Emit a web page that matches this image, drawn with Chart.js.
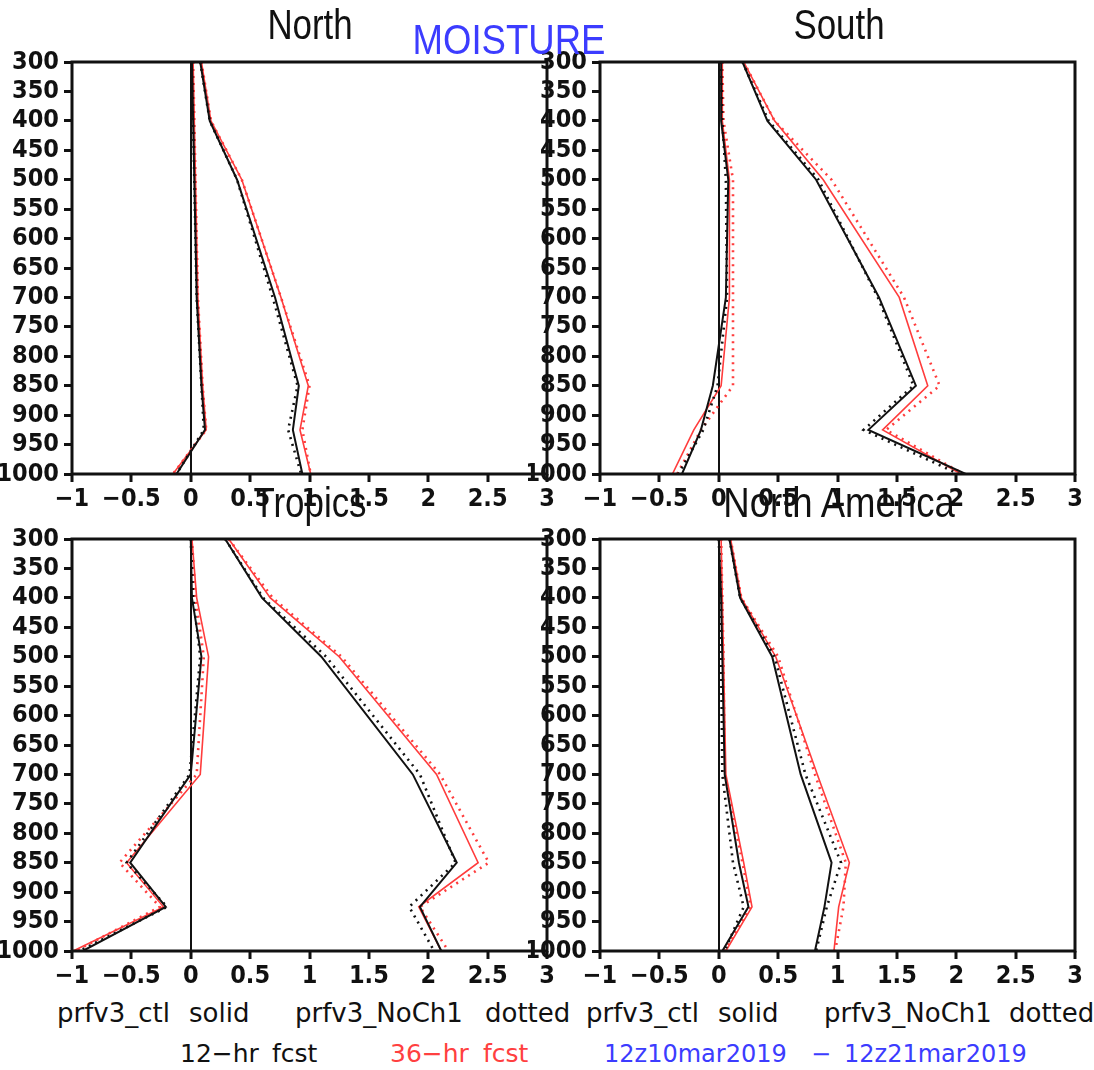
<!DOCTYPE html>
<html>
<head>
<meta charset="utf-8">
<script src="https://cdn.jsdelivr.net/npm/chart.js@4.4.1/dist/chart.umd.min.js"></script>
<style>
  body { margin: 0; background: #fff; }
  #page { position: relative; width: 1094px; height: 1070px; overflow: hidden; background: #fff; }
  #page canvas { position: absolute; }
  .ttl { position: absolute; font-family: 'Liberation Sans', Arial, sans-serif; font-size: 42px; line-height: 1;
         white-space: nowrap; transform: translateX(-50%) scaleX(0.83); transform-origin: center; color: #111; }
  .lbl { position: absolute; font-family: 'DejaVu Sans', sans-serif; font-size: 26px; line-height: 1; white-space: nowrap; color: #111; }
  .sub { position: absolute; font-family: 'DejaVu Sans', sans-serif; font-size: 25px; line-height: 1; white-space: nowrap; }
</style>
</head>
<body>
<div id="page">
  <canvas id="north"></canvas>
  <canvas id="south"></canvas>
  <canvas id="tropics"></canvas>
  <canvas id="namerica"></canvas>

  <div class="ttl" style="left:310px; top:4px">North</div>
  <div class="ttl" style="left:839px; top:4px">South</div>
  <div class="ttl" style="left:310px; top:482px">Tropics</div>
  <div class="ttl" style="left:839px; top:482px; transform: translateX(-50%) scaleX(0.87)">North America</div>
  <div class="ttl" style="left:509px; top:19px; color:#3c3cff; transform: translateX(-50%) scaleX(0.87)">MOISTURE</div>

  <div class="lbl" style="left:57px; top:1000px">prfv3_ctl</div>
  <div class="lbl" style="left:189px; top:1000px">solid</div>
  <div class="lbl" style="left:295px; top:1000px">prfv3_NoCh1</div>
  <div class="lbl" style="left:485px; top:1000px">dotted</div>
  <div class="lbl" style="left:586px; top:1000px">prfv3_ctl</div>
  <div class="lbl" style="left:718px; top:1000px">solid</div>
  <div class="lbl" style="left:824px; top:1000px">prfv3_NoCh1</div>
  <div class="lbl" style="left:1009px; top:1000px">dotted</div>

  <div class="sub" style="left:180px; top:1041px; color:#111">12−hr</div>
  <div class="sub" style="left:272px; top:1041px; color:#111">fcst</div>
  <div class="sub" style="left:390px; top:1041px; color:#ff4040">36−hr</div>
  <div class="sub" style="left:483px; top:1041px; color:#ff4040">fcst</div>
  <div class="sub" style="left:604px; top:1042px; color:#3c3cff; font-size:24px">12z10mar2019</div>
  <div class="sub" style="left:811px; top:1042px; color:#3c3cff; font-size:24px">−</div>
  <div class="sub" style="left:844px; top:1042px; color:#3c3cff; font-size:24px">12z21mar2019</div>
</div>

<script>
// pressure levels (hPa) where the profiles are verified
const levels = [300, 400, 500, 700, 850, 925, 1000];
const yTickLabels = ['300', '350', '400', '450', '500', '550', '600', '650', '700', '750', '800', '850', '900', '950', '1000'];
const xTickLabels = ['−1', '−0.5', '0', '0.5', '1', '1.5', '2', '2.5', '3'];

// North
const northBiasCtl12 = [0.01, 0.02, 0.03, 0.05, 0.09, 0.12, -0.12];
const northBiasNoch12 = [0.01, 0.02, 0.03, 0.05, 0.09, 0.11, -0.12];
const northBiasCtl36 = [0.02, 0.03, 0.04, 0.06, 0.10, 0.13, -0.15];
const northBiasNoch36 = [0.02, 0.03, 0.04, 0.06, 0.10, 0.13, -0.15];
const northRmsCtl12 = [0.08, 0.16, 0.39, 0.71, 0.91, 0.86, 0.94];
const northRmsNoch12 = [0.08, 0.16, 0.39, 0.69, 0.90, 0.82, 0.93];
const northRmsCtl36 = [0.09, 0.17, 0.43, 0.76, 0.99, 0.92, 1.01];
const northRmsNoch36 = [0.09, 0.17, 0.43, 0.76, 1.00, 0.94, 1.01];

// South
const southBiasCtl12 = [0.02, 0.02, 0.08, 0.06, -0.05, -0.15, -0.31];
const southBiasNoch12 = [0.02, 0.03, 0.06, 0.07, -0.01, -0.13, -0.34];
const southBiasCtl36 = [0.03, 0.03, 0.09, 0.09, 0.02, -0.21, -0.39];
const southBiasNoch36 = [0.03, 0.04, 0.12, 0.12, 0.12, -0.15, -0.35];
const southRmsCtl12 = [0.20, 0.41, 0.82, 1.35, 1.66, 1.26, 2.08];
const southRmsNoch12 = [0.20, 0.42, 0.84, 1.34, 1.64, 1.22, 2.02];
const southRmsCtl36 = [0.21, 0.47, 0.88, 1.52, 1.76, 1.38, 2.04];
const southRmsNoch36 = [0.21, 0.47, 0.95, 1.56, 1.86, 1.41, 2.06];

// Tropics
const tropBiasCtl12 = [0.00, 0.01, 0.09, 0.00, -0.51, -0.21, -0.91];
const tropBiasNoch12 = [0.00, 0.02, 0.08, -0.01, -0.54, -0.20, -0.94];
const tropBiasCtl36 = [0.01, 0.05, 0.15, 0.08, -0.54, -0.23, -0.99];
const tropBiasNoch36 = [0.01, 0.04, 0.11, 0.05, -0.60, -0.26, -0.97];
const tropRmsCtl12 = [0.29, 0.60, 1.10, 1.87, 2.24, 1.93, 2.11];
const tropRmsNoch12 = [0.29, 0.61, 1.14, 1.93, 2.23, 1.84, 2.05];
const tropRmsCtl36 = [0.32, 0.67, 1.25, 2.07, 2.42, 1.92, 2.11];
const tropRmsNoch36 = [0.32, 0.69, 1.27, 2.10, 2.51, 1.93, 2.17];

// North America
const naBiasCtl12 = [0.00, 0.02, 0.03, 0.05, 0.17, 0.25, 0.03];
const naBiasNoch12 = [0.00, 0.02, 0.02, 0.03, 0.12, 0.21, 0.05];
const naBiasCtl36 = [0.02, 0.03, 0.04, 0.06, 0.21, 0.28, 0.06];
const naBiasNoch36 = [0.02, 0.03, 0.04, 0.05, 0.20, 0.27, 0.05];
const naRmsCtl12 = [0.09, 0.18, 0.45, 0.69, 0.95, 0.89, 0.81];
const naRmsNoch12 = [0.09, 0.18, 0.47, 0.73, 1.03, 0.91, 0.82];
const naRmsCtl36 = [0.10, 0.19, 0.48, 0.83, 1.10, 1.01, 0.97];
const naRmsNoch36 = [0.10, 0.19, 0.50, 0.81, 1.07, 1.05, 0.98];

const BLACK = '#111111';
const RED = '#ff3c3c';
const tickFont = { family: "'Liberation Sans Narrow', 'DejaVu Sans Condensed', 'Liberation Sans', sans-serif", weight: 'bold', size: 25 };

// plot box size and the room left around it for the axes
const PLOT_W = 475, PLOT_H = 412;
const PAD_L = 72, PAD_T = 20, PAD_R = 20, PAD_B = 45;

function profile(vals) {
  return vals.map((v, i) => ({ x: v, y: levels[i] }));
}

function line(vals, color, dotted) {
  return {
    data: profile(vals),
    borderColor: color,
    borderWidth: dotted ? 2.6 : (color === RED ? 1.6 : 2),
    borderDash: dotted ? [2, 5] : [],
    showLine: true,
    pointRadius: 0,
    fill: false,
    tension: 0
  };
}

// frame all four sides of the plot box
const frame = {
  id: 'frame',
  afterDatasetsDraw(chart) {
    const a = chart.chartArea, c = chart.ctx;
    c.save();
    c.strokeStyle = BLACK;
    c.lineWidth = 3;
    c.strokeRect(a.left, a.top, a.right - a.left, a.bottom - a.top);
    c.restore();
  }
};

function panel(id, left, top, series) {
  const cv = document.getElementById(id);
  cv.width = PLOT_W + PAD_L + PAD_R;
  cv.height = PLOT_H + PAD_T + PAD_B;
  cv.style.left = (left - PAD_L) + 'px';
  cv.style.top = (top - PAD_T) + 'px';
  cv.style.width = cv.width + 'px';
  cv.style.height = cv.height + 'px';

  return new Chart(cv.getContext('2d'), {
    type: 'scatter',
    data: {
      datasets: [
        line(series[0], BLACK, false),
        line(series[1], BLACK, true),
        line(series[2], RED, false),
        line(series[3], RED, true),
        line(series[4], BLACK, false),
        line(series[5], BLACK, true),
        line(series[6], RED, false),
        line(series[7], RED, true)
      ]
    },
    options: {
      responsive: false,
      animation: false,
      events: [],
      layout: { padding: { left: 0, top: PAD_T, right: PAD_R, bottom: 0 } },
      plugins: { legend: { display: false }, tooltip: { enabled: false } },
      scales: {
        x: {
          type: 'linear',
          min: -1,
          max: 3,
          afterFit: s => { s.height = PAD_B; },
          border: { display: false },
          grid: {
            drawOnChartArea: true,
            color: ctx => (ctx.tick && ctx.tick.value === 0 ? BLACK : 'rgba(0,0,0,0)'),
            lineWidth: 2,
            tickColor: BLACK,
            tickWidth: 3,
            tickLength: 8
          },
          ticks: {
            stepSize: 0.5,
            autoSkip: false,
            maxRotation: 0,
            padding: 2,
            color: BLACK,
            font: tickFont,
            callback: (v, i) => xTickLabels[i]
          }
        },
        y: {
          type: 'linear',
          reverse: true,
          min: 300,
          max: 1000,
          afterFit: s => { s.width = PAD_L; },
          border: { display: false },
          grid: {
            drawOnChartArea: false,
            tickColor: BLACK,
            tickWidth: 3,
            tickLength: 8
          },
          ticks: {
            stepSize: 50,
            autoSkip: false,
            padding: 5,
            color: BLACK,
            font: tickFont,
            // label by value, the reversed axis hands its ticks over top-down
            callback: v => yTickLabels[Math.round((v - 300) / 50)]
          }
        }
      }
    },
    plugins: [frame]
  });
}

panel('north', 72, 62, [northBiasCtl12, northBiasNoch12, northBiasCtl36, northBiasNoch36,
                        northRmsCtl12, northRmsNoch12, northRmsCtl36, northRmsNoch36]);
panel('south', 600, 62, [southBiasCtl12, southBiasNoch12, southBiasCtl36, southBiasNoch36,
                         southRmsCtl12, southRmsNoch12, southRmsCtl36, southRmsNoch36]);
panel('tropics', 72, 539, [tropBiasCtl12, tropBiasNoch12, tropBiasCtl36, tropBiasNoch36,
                           tropRmsCtl12, tropRmsNoch12, tropRmsCtl36, tropRmsNoch36]);
panel('namerica', 600, 539, [naBiasCtl12, naBiasNoch12, naBiasCtl36, naBiasNoch36,
                             naRmsCtl12, naRmsNoch12, naRmsCtl36, naRmsNoch36]);
</script>
</body>
</html>
